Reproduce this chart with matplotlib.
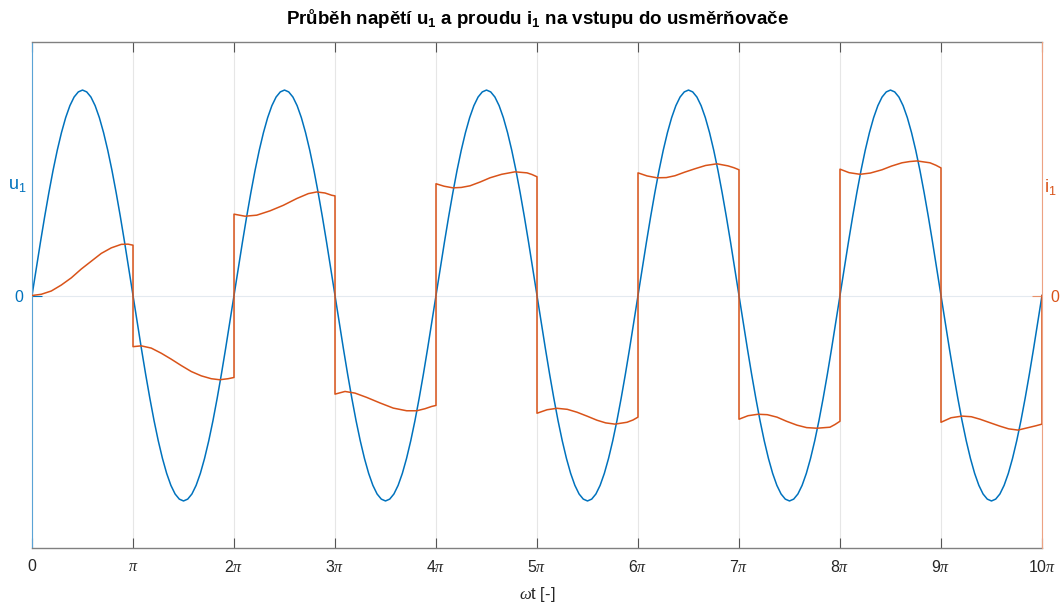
import numpy as np
import matplotlib
matplotlib.use('Agg')
import matplotlib.pyplot as plt

plt.rcParams['font.family'] = ['Liberation Sans', 'DejaVu Sans']
plt.rcParams['mathtext.default'] = 'regular'
plt.rcParams['mathtext.fontset'] = 'custom'
plt.rcParams['mathtext.it'] = 'Liberation Serif:italic'
plt.rcParams['mathtext.rm'] = 'Liberation Sans'

# napeti u1 - jedna perioda odectena po pi/24, opakuje se 5x
u1_perioda = [0, 0.131, 0.259, 0.383, 0.5, 0.609, 0.707, 0.793, 0.866, 0.924, 0.966, 0.991,
              1.0, 0.991, 0.966, 0.924, 0.866, 0.793, 0.707, 0.609, 0.5, 0.383, 0.259, 0.131,
              0, -0.131, -0.259, -0.383, -0.5, -0.609, -0.707, -0.793, -0.866, -0.924, -0.966, -0.991,
              -1.0, -0.991, -0.966, -0.924, -0.866, -0.793, -0.707, -0.609, -0.5, -0.383, -0.259, -0.131]
pocet_period = 5

# proud i1 - cas v nasobcich pi a hodnoty (skoky = dva body se stejnym casem)
i1_t = [0, 0.092, 0.191, 0.290, 0.389, 0.488, 0.587, 0.686, 0.785, 0.884, 0.950, 1.0,
        1.0, 1.082, 1.181, 1.280, 1.379, 1.478, 1.577, 1.676, 1.775, 1.858, 1.941, 2.0,
        2.0, 2.109, 2.225, 2.356, 2.488, 2.621, 2.736, 2.819, 2.901, 2.967, 3.0,
        3.0, 3.099, 3.198, 3.314, 3.446, 3.577, 3.710, 3.809, 3.891, 3.957, 4.0,
        4.0, 4.08, 4.168, 4.25, 4.337, 4.44, 4.535, 4.65, 4.782, 4.901, 4.95, 5.0,
        5.0, 5.1, 5.198, 5.3, 5.396, 5.5, 5.594, 5.68, 5.772, 5.891, 5.95, 6.0,
        6.0, 6.09, 6.188, 6.28, 6.366, 6.46, 6.564, 6.67, 6.782, 6.891, 6.95, 7.0,
        7.0, 7.09, 7.188, 7.28, 7.376, 7.47, 7.574, 7.67, 7.772, 7.901, 7.95, 8.0,
        8.0, 8.09, 8.198, 8.30, 8.416, 8.51, 8.614, 8.69, 8.762, 8.891, 8.95, 9.0,
        9.0, 9.10, 9.208, 9.30, 9.386, 9.49, 9.584, 9.67, 9.762, 9.881, 9.94, 10.0,
        10.0]
i1 = [0, 0.006, 0.022, 0.051, 0.086, 0.129, 0.167, 0.205, 0.232, 0.249, 0.250, 0.245,
      -0.249, -0.245, -0.256, -0.281, -0.310, -0.341, -0.370, -0.391, -0.405, -0.410, -0.405, -0.399,
      0.396, 0.386, 0.391, 0.412, 0.439, 0.472, 0.496, 0.504, 0.499, 0.488, 0.485,
      -0.480, -0.467, -0.475, -0.496, -0.523, -0.548, -0.561, -0.561, -0.551, -0.540, -0.535,
      0.544, 0.532, 0.524, 0.526, 0.534, 0.553, 0.573, 0.590, 0.602, 0.597, 0.589, 0.578,
      -0.573, -0.556, -0.549, -0.554, -0.568, -0.588, -0.607, -0.620, -0.626, -0.617, -0.606, -0.592,
      0.597, 0.582, 0.573, 0.574, 0.583, 0.600, 0.617, 0.633, 0.641, 0.631, 0.622, 0.612,
      -0.602, -0.585, -0.578, -0.580, -0.592, -0.612, -0.631, -0.643, -0.646, -0.641, -0.628, -0.612,
      0.615, 0.598, 0.590, 0.596, 0.612, 0.630, 0.646, 0.652, 0.655, 0.646, 0.634, 0.621,
      -0.617, -0.595, -0.587, -0.590, -0.602, -0.620, -0.636, -0.649, -0.655, -0.641, -0.634, -0.626,
      0]

xticklabels = ['0', r'$\mathit{\pi}$'] + [r'%d$\mathit{\pi}$' % k for k in range(2, 11)]

modra = '#0072BD'
oranzova = '#D95319'

u1 = np.array(u1_perioda * pocet_period + [0])
t_u = np.arange(len(u1)) * np.pi / 24
t_i = np.array(i1_t) * np.pi

fig = plt.figure(figsize=(10.6, 6.05), dpi=100)
ax = fig.add_axes([0.0302, 0.0942, 0.9528, 0.8364])
ax2 = ax.twinx()

ax.plot(t_u, u1, color=modra, lw=1.1)
ax2.plot(t_i, i1, color=oranzova, lw=1.1)

ylim = (-1.229, 1.234)
ax.set_ylim(ylim)
ax2.set_ylim(ylim)
ax.set_xlim(0, 10 * np.pi)

ax.set_xticks(np.arange(11) * np.pi)
ax.set_xticklabels(xticklabels)
ax.set_yticks([0])
ax2.set_yticks([0])

ax.tick_params(axis='x', direction='in', length=7, width=0.8, top=True, color='#555555',
               labelsize=11.5, labelcolor='#262626', pad=8)
ax.tick_params(axis='y', direction='in', length=7, width=0.8, color=modra,
               labelsize=11.5, labelcolor=modra, pad=6)
ax2.tick_params(axis='y', direction='in', length=7, width=0.8, color='#e8916b',
                labelsize=11.5, labelcolor=oranzova, pad=6)

ax.grid(True, axis='x', color='#e6e6e6', lw=0.8)
ax.grid(True, axis='y', color='#e4eaf0', lw=0.8)

for s in ['top', 'bottom']:
    ax.spines[s].set_color('#808080')
    ax.spines[s].set_linewidth(1)
ax.spines['left'].set_color('#5aa3d6')
ax.spines['right'].set_visible(False)
for s in ['left', 'top', 'bottom']:
    ax2.spines[s].set_visible(False)
ax2.spines['right'].set_color('#eda283')

ax.set_ylabel('u$_1$', rotation=0, color=modra, fontsize=13)
ax.yaxis.set_label_coords(-0.015, 0.70)
ax2.set_ylabel('i$_1$', rotation=0, color=oranzova, fontsize=13)
ax2.yaxis.set_label_coords(1.008, 0.733)

ax.set_xlabel(r'$\mathit{\omega}$t [-]', fontsize=12, color='#262626', labelpad=7)
ax.set_title('Průběh napětí u$_1$ a proudu i$_1$ na vstupu do usměrňovače',
             fontsize=13.5, fontweight='bold', pad=13)

fig.savefig('out.png', dpi=100)
